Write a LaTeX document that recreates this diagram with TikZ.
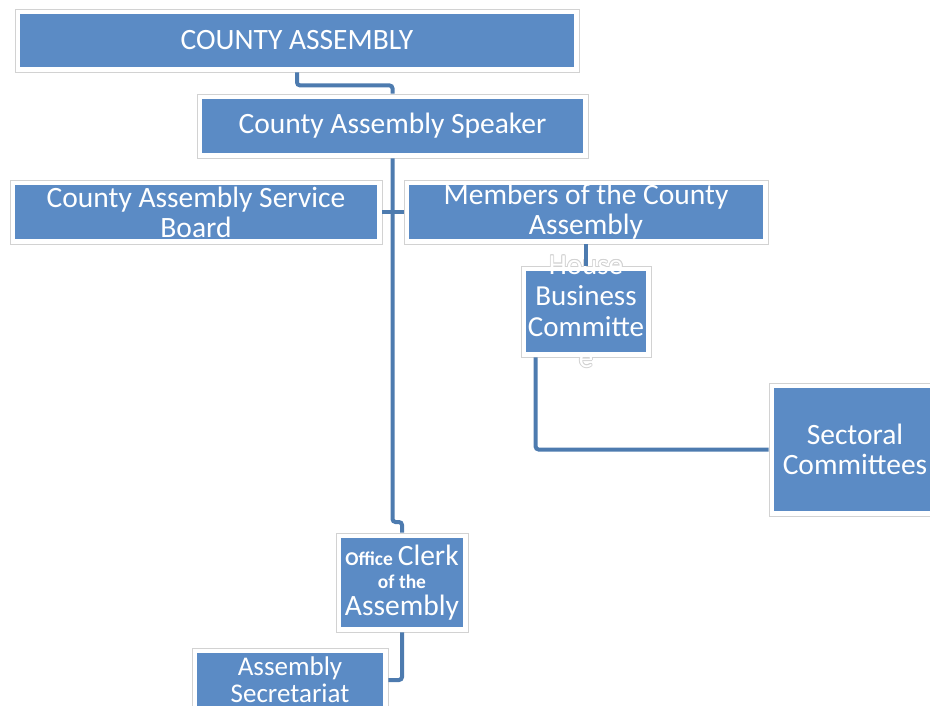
\documentclass[tikz,border=0pt]{standalone}
\usepackage{fontspec}
\setmainfont{Carlito}
\definecolor{boxblue}{HTML}{5B8BC5}
\definecolor{lineblue}{HTML}{4D7BAF}
\definecolor{edgegray}{HTML}{D2D2D2}
\begin{document}
\begin{tikzpicture}[x=1pt,y=-1pt,
  orgbox/.style={rectangle, draw=edgegray, line width=0.8pt, fill=white, inner sep=0pt,
    text=white, align=center, font=\fontsize{29.5}{30}\selectfont,
    path picture={\fill[boxblue] ([shift={(5pt,-5pt)}]path picture bounding box.north west) rectangle ([shift={(-5pt,5pt)}]path picture bounding box.south east);}},
  conn/.style={draw=lineblue, line width=4pt, rounded corners=3pt},
  hbctext/.style={inner sep=0pt, align=center, font=\fontsize{29}{31}\selectfont}]
\useasboundingbox (0,0) rectangle (930,705);
\coordinate (jog) at (402,522);
\node[orgbox, minimum width=564pt, minimum height=63pt] (ca) at (297,40.5) {COUNTY ASSEMBLY};
\node[orgbox, minimum width=391pt, minimum height=64pt] (speaker) at (392.5,126) {County Assembly Speaker};
\node[orgbox, minimum width=372pt, minimum height=64pt] (board) at (196,212) {County Assembly Service\\Board};
\node[orgbox, minimum width=364pt, minimum height=64pt] (members) at (586,212) {Members of the County\\Assembly};
\node[orgbox, minimum width=172pt, minimum height=133pt] (sectoral) at (855,449.5) {Sectoral\\Committees};
\node[orgbox, minimum width=132pt, minimum height=99pt] (clerk) at (402,582.5)
  {{\fontsize{19.5}{20}\selectfont\bfseries Office}\,Clerk\\[-7pt]{\fontsize{19.5}{20}\selectfont\bfseries of the}\\[-3pt]{\fontsize{29.5}{30}\selectfont Assembly}};
\node[orgbox, minimum width=196pt, minimum height=64pt, font=\fontsize{27}{27}\selectfont] (secretariat) at (290,680) {Assembly\\Secretariat};
% overflowing text halo, then box, then text
\foreach \dx/\dy [count=\i] in {0.8/0,-0.8/0,0/0.8,0/-0.8,0.6/0.6,-0.6/0.6,0.6/-0.6,-0.6/-0.6}
  \node[hbctext, text=edgegray] (hbchalo\i) at ([shift={(\dx pt,\dy pt)}]586pt,-311.5pt) {House\\Business\\Committe\\e};
\node[orgbox, minimum width=130pt, minimum height=91pt] (hbc) at (586,311.5) {};
\node[hbctext, text=white] (hbclabel) at (hbc.center) {House\\Business\\Committe\\e};
\draw[conn] (ca.south) -- ++(0,13) -| (speaker.north);
\draw[conn] (speaker.south) |- (jog) -- (clerk.north);
\draw[conn] (board.east) -- (members.west);
\draw[conn] (members.south) -- (hbc.north);
\draw[conn] ([xshift=15pt]hbc.south west) |- (sectoral.west);
\draw[conn] (clerk.south) |- (secretariat.east);
\end{tikzpicture}
\end{document}
